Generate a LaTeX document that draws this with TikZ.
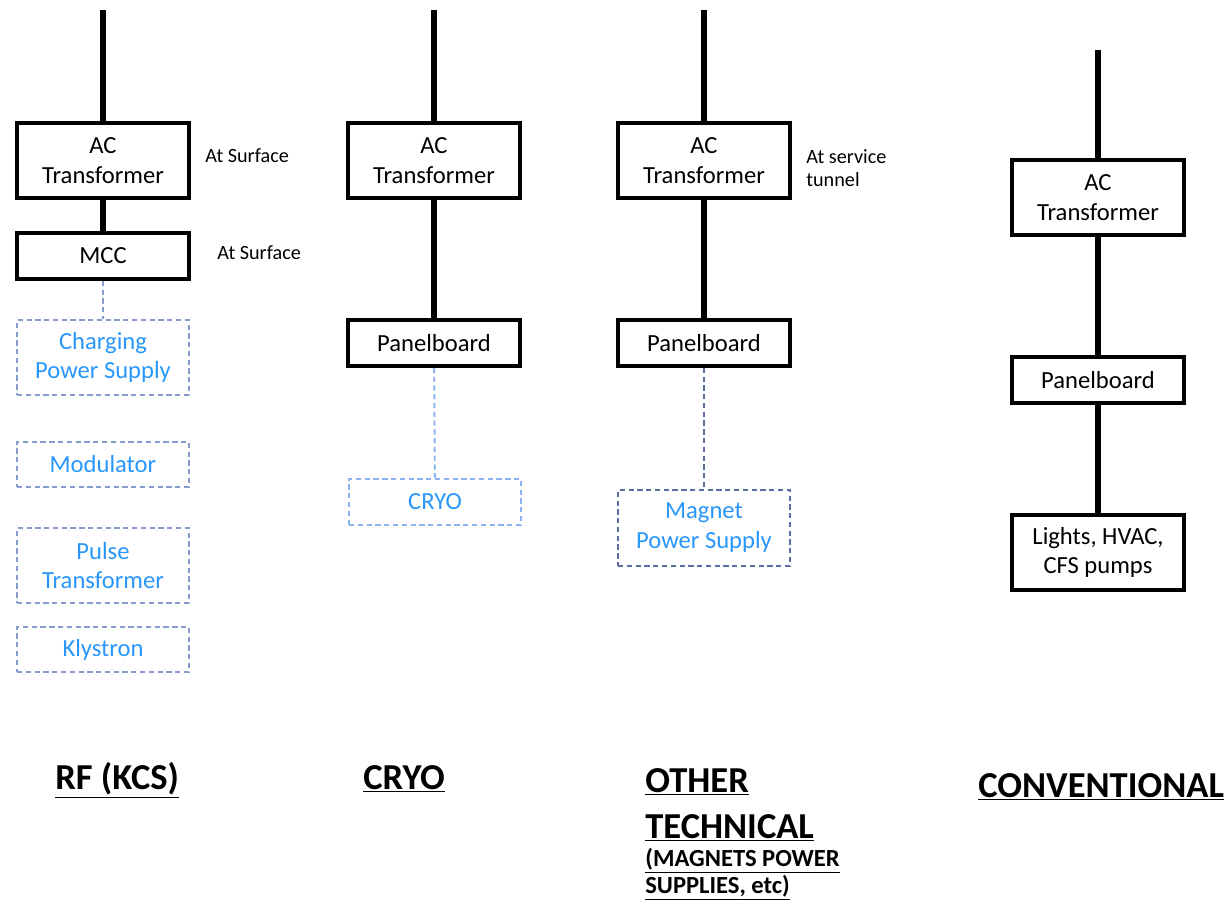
\documentclass[tikz,border=0pt]{standalone}
\usepackage{fontspec}
\setmainfont{Carlito}
\usepackage{xcolor}
\usepackage{tikz}
\usetikzlibrary{positioning}
\definecolor{partblue}{RGB}{40, 150, 250}
\definecolor{dashgrey}{RGB}{135, 155, 205}
\definecolor{dashlight}{RGB}{140, 180, 245}
\definecolor{dashdark}{RGB}{90, 110, 160}

\begin{document}
\begin{tikzpicture}[x=0.02cm, y=-0.02cm,
    unit/.style={draw, line width=2pt, minimum width=3.44cm, align=center, inner sep=2pt, font=\fontsize{14}{17}\selectfont},
    part/.style={draw=#1, dashed, dash pattern=on 3pt off 2pt, line width=1.1pt, text=partblue, minimum width=3.44cm, align=center, inner sep=2pt, font=\fontsize{14}{17}\selectfont},
    part/.default=dashgrey,
    feed/.style={line width=3.8pt},
    link/.style={draw=#1, dash pattern=on 3pt off 2pt, line width=1.1pt},
    link/.default=dashgrey,
    note/.style={anchor=west, align=left, inner sep=0pt, font=\fontsize{11.5}{13}\selectfont},
    heading/.style={anchor=base west, inner sep=0pt, font=\bfseries\fontsize{20.8}{24}\selectfont},
    subheading/.style={anchor=base west, inner sep=0pt, font=\bfseries\fontsize{14}{16}\selectfont}]
    \useasboundingbox (0,0) rectangle (1228,903);

    % RF (KCS)
    \coordinate (rftop) at (103,10);
    \node[unit, minimum height=1.5cm] (rfac) at (103,160.5) {AC\\Transformer};
    \node[unit, minimum height=0.92cm] (rfmcc) at (103,256) {MCC};
    \node[part, minimum height=1.5cm] (rfcps) at (103,357.5) {Charging\\Power Supply};
    \node[part, minimum height=0.9cm] (rfmod) at (103,464.5) {Modulator};
    \node[part, minimum height=1.5cm] (rfpulse) at (103,565.5) {Pulse\\Transformer};
    \node[part, minimum height=0.9cm] (rfkly) at (103,649.5) {Klystron};
    \node[note] (rfnote1) at (205,156) {At Surface};
    \node[note] (rfnote2) at (217,253) {At Surface};
    \draw[feed] (rftop) -- (rfac);
    \draw[feed] (rfac) -- (rfmcc);
    \draw[link] (rfmcc) -- (rfcps);

    % CRYO
    \coordinate (crtop) at (434,10);
    \node[unit, minimum height=1.5cm] (crac) at (434,160.5) {AC\\Transformer};
    \node[unit, minimum height=0.92cm] (crpanel) at (434,343) {Panelboard};
    \node[part=dashlight, minimum height=0.92cm] (crload) at (435,502) {CRYO};
    \draw[feed] (crtop) -- (crac);
    \draw[feed] (crac) -- (crpanel);
    \draw[link=dashlight] (crpanel) -- (crload);

    % other technical
    \coordinate (ottop) at (704,10);
    \node[unit, minimum height=1.5cm] (otac) at (704,160.5) {AC\\Transformer};
    \node[unit, minimum height=0.92cm] (otpanel) at (704,343) {Panelboard};
    \node[part=dashdark, minimum height=1.52cm] (otload) at (704,528) {Magnet\\Power Supply};
    \node[note] (otnote) at (806,168) {At service\\tunnel};
    \draw[feed] (ottop) -- (otac);
    \draw[feed] (otac) -- (otpanel);
    \draw[link=dashdark] (otpanel) -- (otload);

    % conventional
    \coordinate (cvtop) at (1098,50);
    \node[unit, minimum height=1.5cm] (cvac) at (1098,197.5) {AC\\Transformer};
    \node[unit, minimum height=0.92cm] (cvpanel) at (1098,380) {Panelboard};
    \node[unit, minimum height=1.5cm] (cvload) at (1098,552.5) {Lights, HVAC,\\CFS pumps};
    \draw[feed] (cvtop) -- (cvac);
    \draw[feed] (cvac) -- (cvpanel);
    \draw[feed] (cvpanel) -- (cvload);

    % headings
    \node[heading] (rfhead) at (55,789) {\underline{RF (KCS)}};
    \node[heading] (crhead) at (363,789) {\underline{CRYO}};
    \node[heading] (othead) at (645,792) {\underline{OTHER}};
    \node[heading] (othead2) at (645,838) {\underline{TECHNICAL}};
    \node[subheading] (otsub) at (645,866) {\underline{(MAGNETS POWER}};
    \node[subheading] (otsub2) at (645,893) {\underline{SUPPLIES, etc)}};
    \node[heading] (cvhead) at (978,797) {\underline{CONVENTIONAL}};
\end{tikzpicture}
\end{document}
